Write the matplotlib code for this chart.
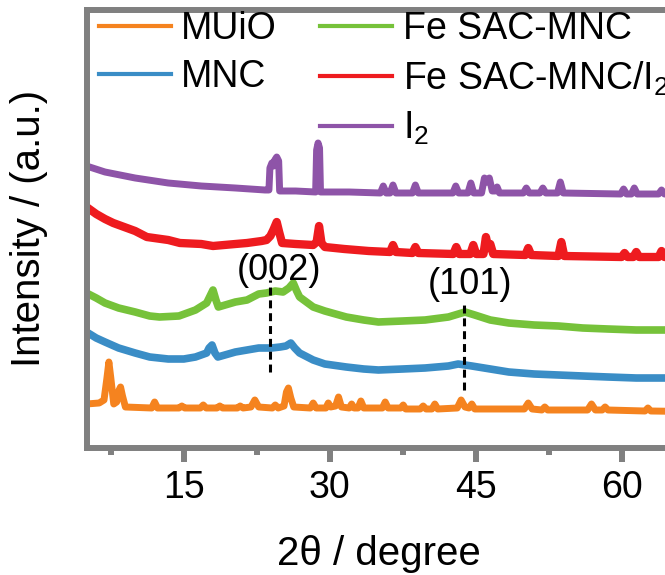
import matplotlib
matplotlib.use("Agg")
import matplotlib.pyplot as plt
from matplotlib.lines import Line2D

plt.rcParams['font.family'] = ['Liberation Sans', 'DejaVu Sans']
plt.rcParams['mathtext.fontset'] = 'custom'
plt.rcParams['mathtext.rm'] = 'Liberation Sans'
plt.rcParams['mathtext.it'] = 'Liberation Sans:italic'
plt.rcParams['mathtext.bf'] = 'Liberation Sans:bold'

# ---- series (stacked intensity, a.u.) ----
labels = ["MUiO", "MNC", "Fe SAC-MNC", "Fe SAC-MNC/I$_2$", "I$_2$"]
colors = ["#F5831F", "#3A8DC6", "#76C23A", "#EE1B1F", "#8E54A8"]

muio_2theta = [5.0, 6.3, 6.8, 7.1, 7.3, 7.5, 7.8, 8.1, 8.35, 8.5, 8.7, 9.0,
               11.7, 12.0, 12.3, 14.5, 14.8, 15.1, 16.7, 17.0, 17.3,
               18.4, 18.7, 19.0, 20.5, 20.8, 21.1, 21.9, 22.3, 22.7,
               24.1, 24.4, 24.7, 25.3, 25.55, 25.75, 26.0, 26.3,
               28.0, 28.3, 28.6, 29.6, 29.85, 30.1, 30.6, 30.9, 31.2,
               32.0, 32.25, 32.5, 32.9, 33.2, 33.5, 35.4, 35.7, 36.0,
               37.3, 37.55, 37.8, 39.3, 39.6, 39.9, 40.5, 40.8, 41.1,
               43.1, 43.5, 43.9, 44.3, 44.6, 44.9, 50.0, 50.4, 50.8,
               51.8, 52.1, 52.4, 56.5, 56.9, 57.3, 58.0, 58.3, 58.6,
               62.4, 62.7, 63.0, 70.0]
muio_intensity = [44, 45, 48, 70, 86, 70, 44, 46, 58, 61, 52, 41,
                  40, 46, 40, 40, 42, 40, 40, 43, 40,
                  40, 42, 40, 40, 42, 40, 41, 48, 41,
                  40, 43, 40, 42, 56, 60, 50, 41,
                  40, 45, 40, 40, 45, 41, 42, 51, 41,
                  40, 44, 40, 40, 47, 40, 40, 46, 40,
                  40, 43, 39, 39, 42, 39, 39, 44, 39,
                  40, 48, 41, 40, 44, 39, 39, 45, 39,
                  38, 41, 38, 38, 44, 38, 38, 41, 38,
                  37, 40, 37, 36]

mnc_2theta = [5.0, 6.0, 6.9, 8.3, 10.0, 11.5, 13.4, 15.0, 16.2, 17.35, 17.6, 17.9,
              18.2, 18.5, 20.3, 21.5, 22.7, 24.0, 24.9, 25.5, 26.0, 26.4,
              26.9, 28.3, 29.5, 31.7, 33.5, 35.0, 37.5, 39.8, 42.2, 43.2, 44.6, 46.5,
              48.4, 51.0, 53.5, 56.0, 58.6, 61.5, 64.5, 70.0]
mnc_intensity = [116, 110, 106, 100, 95, 91, 89, 89, 91, 95, 100, 103,
                 95, 91, 96, 98, 100, 100, 101, 102, 105, 100,
                 95, 88, 84, 81, 79, 78, 79, 80, 82, 84, 82, 79,
                 76, 74, 73, 72, 71, 70, 70, 69]

fesac_2theta = [5.0, 6.0, 6.9, 8.3, 10.0, 11.5, 12.5, 14.5, 16.2, 17.35, 17.7, 18.0,
                18.3, 18.55, 20.3, 21.5, 22.7, 23.5, 24.4, 25.2, 25.8, 26.25,
                26.6, 26.9, 28.3, 29.5, 31.7, 33.5, 35.0, 37.5, 39.8, 42.2, 43.9, 44.9,
                46.5, 48.4, 51.0, 53.5, 56.0, 58.6, 61.5, 64.5, 70.0]
fesac_intensity = [155, 150, 145, 140, 136, 132, 131, 132, 138, 145, 152, 158,
                   148, 141, 146, 148, 154, 155, 157, 156, 160, 165,
                   157, 151, 141, 137, 131, 128, 126, 127, 128, 131, 136, 133,
                   128, 125, 123, 122, 120, 119, 118, 118, 117]

fesac_i2_2theta = [5.0, 6.0, 6.9, 7.75, 10.0, 11.2, 13.4, 14.6, 16.8, 18.0, 20.3,
                   21.5, 23.0, 23.5, 23.9, 24.2, 24.55, 24.8, 25.1, 26.5, 28.3,
                   28.65, 28.9, 29.15, 29.5, 31.5, 34.0, 36.2, 36.5, 36.8, 38.5,
                   38.8, 39.1, 42.7, 43.0, 43.3, 44.45, 44.75, 45.05, 45.8, 46.05,
                   46.3, 46.5, 46.8, 50.1, 50.4, 50.7, 53.5, 53.8, 54.1, 60.0,
                   60.3, 60.6, 61.2, 61.5, 61.8, 63.8, 64.1, 64.4, 70.0]
fesac_i2_intensity = [241, 234, 229, 225, 217, 211, 208, 205, 204, 202, 204,
                      205, 207, 208, 212, 218, 226, 216, 205, 204, 203,
                      206, 222, 205, 201, 199, 197, 196, 203, 196, 195,
                      201, 195, 194, 201, 194, 194, 203, 194, 194, 211,
                      200, 204, 194, 193, 200, 193, 192, 206, 192, 191,
                      195, 191, 191, 196, 191, 191, 197, 191, 190]

i2_2theta = [5.0, 6.9, 10.0, 13.4, 16.8, 20.3, 23.35, 23.75, 23.85, 24.05,
             24.25, 24.35, 24.55, 24.75, 24.85, 26.5, 28.55, 28.65, 28.8, 28.95,
             29.05, 32.0, 35.2, 35.5, 35.8, 36.2, 36.5, 36.8, 38.5, 38.8,
             39.1, 42.65, 42.95, 43.25, 44.2, 44.5, 44.8, 45.6, 45.9, 46.15,
             46.4, 46.7, 47.0, 47.2, 47.45, 49.9, 50.2, 50.5, 51.6, 51.9,
             52.2, 53.4, 53.7, 54.0, 59.9, 60.2, 60.5, 61.0, 61.3, 61.6,
             63.8, 64.1, 64.4, 70.0]
i2_intensity = [282, 276, 270, 265, 262, 260, 258, 258, 280, 285,
                282, 288, 291, 287, 257, 257, 256, 298, 305, 300,
                256, 256, 255, 262, 255, 255, 263, 255, 255, 263,
                255, 255, 262, 255, 255, 265, 255, 255, 270, 266,
                270, 257, 257, 261, 255, 255, 260, 255, 255, 260,
                255, 255, 266, 255, 254, 259, 254, 254, 260, 254,
                254, 258, 254, 253]

series_2theta = [muio_2theta, mnc_2theta, fesac_2theta, fesac_i2_2theta, i2_2theta]
series_intensity = [muio_intensity, mnc_intensity, fesac_intensity,
                    fesac_i2_intensity, i2_intensity]

# carbon reflections marked with dashed guides
hkl_labels = ["(002)", "(101)"]
hkl_2theta = [23.9, 43.8]
hkl_guide_low = [76, 58]
hkl_guide_high = [168, 145]
hkl_text_2theta = [24.8, 44.4]
hkl_text_intensity = [177, 164]

x_ticks = [15, 30, 45, 60]
x_minor_ticks = [7.5, 22.5, 37.5, 52.5, 67.5]

# ---- figure ----
W, H = 665, 575
fig = plt.figure(figsize=(W / 100, H / 100), dpi=100)
ax_left, ax_bottom, ax_top = 86.5, 448, 9.5
ax_w = 65 * 9.73
ax = fig.add_axes([ax_left / W, (H - ax_bottom) / H, ax_w / W, (ax_bottom - ax_top) / H])
ax.set_xlim(5, 70)
ax.set_ylim(0, ax_bottom - ax_top)

line_w = [5, 5.5, 5.5, 6, 5]
for xs, ys, c, lw in zip(series_2theta, series_intensity, colors, line_w):
    ax.plot(xs, ys, color=c, lw=lw, solid_joinstyle='round', solid_capstyle='round')

for lab, x0, lo, hi, tx, ty in zip(hkl_labels, hkl_2theta, hkl_guide_low, hkl_guide_high,
                                   hkl_text_2theta, hkl_text_intensity):
    ax.plot([x0, x0], [lo, hi], color='black', lw=2.2, ls=(0, (2.6, 1.6)))
    ax.text(tx, ty, lab, fontsize=26, ha='center', va='center')

frame = '#808080'
for side in ['left', 'top', 'bottom']:
    ax.spines[side].set_color(frame)
    ax.spines[side].set_linewidth(4.3)
ax.spines['right'].set_visible(False)

ax.set_xticks(x_ticks)
ax.set_xticks(x_minor_ticks, minor=True)
ax.set_yticks([])
ax.tick_params(axis='x', which='major', direction='out', length=10, width=4.3,
               color=frame, labelsize=27, pad=6, top=False)
ax.tick_params(axis='x', which='minor', direction='out', length=5, width=4.3,
               color=frame, top=False)

ax.set_xlabel("2θ / degree", fontsize=29)
ax.xaxis.set_label_coords((378.5 - ax_left) / ax_w, -0.198)
ax.set_ylabel("Intensity / (a.u.)", fontsize=29)
ax.yaxis.set_label_coords(-(ax_left - 48) / ax_w, 0.5)

handles = [Line2D([], [], color=c, lw=3) for c in colors]
blank = Line2D([], [], color='none')
leg_handles = [handles[0], handles[1], blank, handles[2], handles[3], handles[4]]
leg_labels = [labels[0], labels[1], "", labels[2], labels[3], labels[4]]
ax.legend(leg_handles, leg_labels, ncol=2, loc='upper left',
          bbox_to_anchor=(98.7 / W, 1 - 11 / H), bbox_transform=fig.transFigure,
          frameon=False, fontsize=27, handlelength=1.92, handletextpad=0.27,
          columnspacing=1.17, labelspacing=0.33, borderpad=0, borderaxespad=0)

fig.savefig("out.png", dpi=100)
